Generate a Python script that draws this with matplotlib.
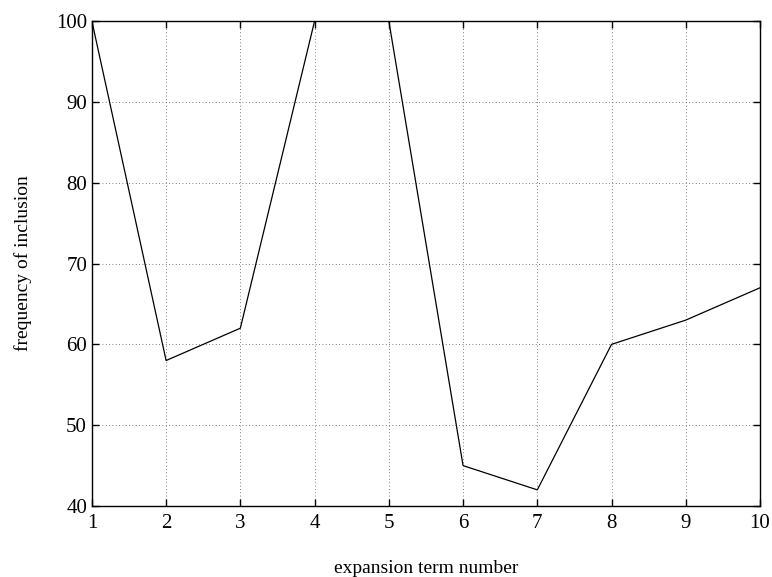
import matplotlib
matplotlib.use("Agg")
import matplotlib.pyplot as plt

terms = [1, 2, 3, 4, 5, 6, 7, 8, 9, 10]
freq = [100, 58, 62, 100, 100, 45, 42, 60, 63, 67]
yticks = [40, 50, 60, 70, 80, 90, 100]

plt.rcParams['font.family'] = ['Liberation Serif', 'DejaVu Serif']

fig = plt.figure(figsize=(7.72, 5.77), dpi=100)
ax = fig.add_axes([0.119, 0.123, 0.8655, 0.8406])
ax.plot(terms, freq, color='black', linewidth=0.9)
ax.set_xlim(1, 10)
ax.set_ylim(40, 100)
ax.set_xticks(terms)
ax.set_yticks(yticks)
ax.grid(True, linestyle=(0, (1, 3)), color='#555555', linewidth=0.6)
ax.tick_params(direction='in', top=True, right=True, labelsize=15, length=5, width=1, pad=3.5)
ax.tick_params(axis='x', pad=6)
for s in ax.spines.values():
    s.set_linewidth(1.0)
ax.set_xlabel('expansion term number', fontsize=14, labelpad=19)
ax.set_ylabel('frequency of inclusion', fontsize=14, labelpad=17)
fig.savefig('out.png', dpi=100)
